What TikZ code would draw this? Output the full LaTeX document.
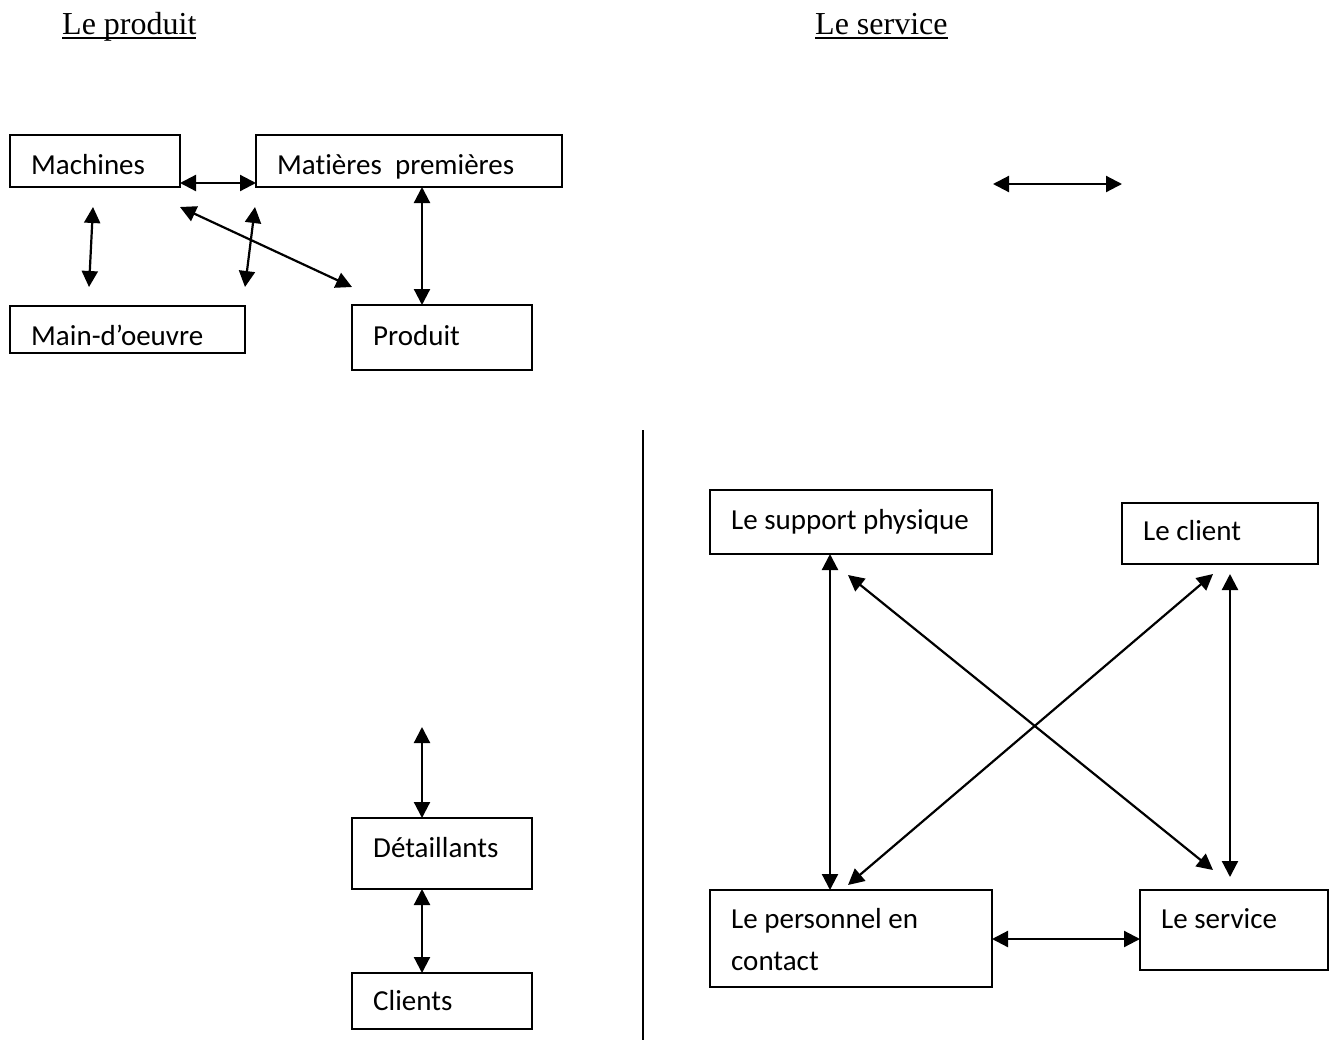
\documentclass[tikz,border=0pt]{standalone}
\usepackage{fontspec}
\setmainfont{Carlito}[Ligatures={NoCommon}]
\newfontfamily\titlefont{Liberation Serif}
\usetikzlibrary{arrows.meta,calc}
\newcommand\myul[1]{\setbox0\hbox{#1}\rlap{\rule[-5pt]{\wd0}{2.2pt}}\box0}
\tikzset{
  box/.style={draw, line width=1.5pt, anchor=north west, inner sep=0pt, outer sep=0pt},
  lbl/.style={anchor=base west, inner sep=0pt, font=\fontsize{29}{34}\selectfont},
  ttl/.style={anchor=base west, inner sep=0pt, font=\titlefont\fontsize{32}{38}\selectfont},
  arr/.style={line width=2.2pt, {Triangle[length=16pt,width=16pt]}-{Triangle[length=16pt,width=16pt]}},
  sep/.style={line width=1.5pt}
}
\begin{document}
\begin{tikzpicture}[x=1pt,y=-1pt]
\useasboundingbox (0,0) rectangle (1334,1042);
% titles
\node[ttl] (t1) at (62,34) {\myul{Le produit}};
\node[ttl] (t2) at (815,34) {\myul{Le service}};
% left boxes
\node[box, minimum width=170pt, minimum height=52pt] (mach) at (10,135) {};
\node[box, minimum width=306pt, minimum height=52pt] (mat) at (256,135) {};
\node[box, minimum width=235pt, minimum height=47pt] (main) at (10,306) {};
\node[box, minimum width=180pt, minimum height=65pt] (prod) at (352,305) {};
\node[box, minimum width=180pt, minimum height=71pt] (det) at (352,818) {};
\node[box, minimum width=180pt, minimum height=56pt] (cli) at (352,973) {};
% right boxes
\node[box, minimum width=282pt, minimum height=64pt] (sup) at (710,490) {};
\node[box, minimum width=196pt, minimum height=61pt] (lcl) at (1122,503) {};
\node[box, minimum width=282pt, minimum height=97pt] (pers) at (710,890) {};
\node[box, minimum width=188pt, minimum height=80pt] (serv) at (1140,890) {};
% labels
\node[lbl] (lmach) at (31,174) {Machines};
\node[lbl] (lmat) at (277,174) {Matières~ premières};
\node[lbl] (lmain) at (31,345) {Main-d’oeuvre};
\node[lbl] (lprod) at (373,345) {Produit};
\node[lbl] (ldet) at (373,857) {Détaillants};
\node[lbl] (lcli) at (373,1010) {Clients};
\node[lbl] (lsup) at (731,529) {Le support physique};
\node[lbl] (llcl) at (1143,540) {Le client};
\node[lbl] (lpers1) at (731,928) {Le personnel en};
\node[lbl] (lpers2) at (731,970) {contact};
\node[lbl] (lserv) at (1161,928) {Le service};
% helper coordinates
\coordinate (y183) at (0,183);
\coordinate (x422) at (422,0);
\coordinate (x830) at (830,0);
\coordinate (y939) at (0,939);
\coordinate (a1) at (93,207);
\coordinate (a2) at (89,287);
\coordinate (b1) at (255,207);
\coordinate (b2) at (245,287);
\coordinate (c1) at (180,207);
\coordinate (c2) at (352,287);
\coordinate (d1) at (422,727);
\coordinate (e1) at (993,184);
\coordinate (e2) at (1122,184);
\coordinate (f1) at (848,575);
\coordinate (f2) at (1213,870);
\coordinate (g1) at (1213,574);
\coordinate (g2) at (848,885);
\coordinate (h1) at (1230,574);
\coordinate (h2) at (1230,877);
\coordinate (s1) at (643,430);
\coordinate (s2) at (643,1040);
% connectors
\draw[arr] (mach.east |- y183) -- (mat.west |- y183);
\draw[arr] (a1) -- (a2);
\draw[arr] (b1) -- (b2);
\draw[arr] (c1) -- (c2);
\draw[arr] (mat.south -| x422) -- (prod.north -| x422);
\draw[arr] (d1) -- (det.north -| x422);
\draw[arr] (det.south -| x422) -- (cli.north -| x422);
\draw[arr] (e1) -- (e2);
\draw[arr] (sup.south -| x830) -- (pers.north -| x830);
\draw[arr] (f1) -- (f2);
\draw[arr] (g1) -- (g2);
\draw[arr] (h1) -- (h2);
\draw[arr] (pers.east |- y939) -- (serv.west |- y939);
\draw[sep] (s1) -- (s2);
\end{tikzpicture}
\end{document}
